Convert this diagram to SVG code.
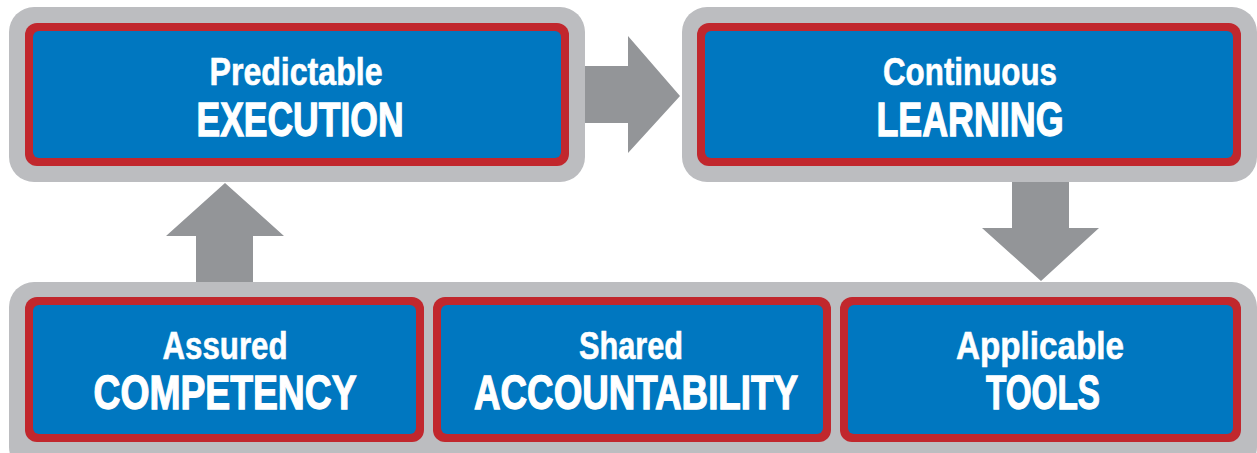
<svg xmlns="http://www.w3.org/2000/svg" width="1257" height="453" viewBox="0 0 1257 453">
<style>
.frame{fill:#bcbdc0}
.red{fill:#c1272d}
.blue{fill:#0077c0}
.arrow{fill:#939598}
text{font-family:"Liberation Sans",Arial,sans-serif;font-weight:bold;fill:#fff;stroke:#fff;text-anchor:middle}
.s{font-size:38px;stroke-width:0.6px}
.b{font-size:48px;stroke-width:1.3px}
</style>
<rect width="1257" height="453" fill="#fff"/>
<g id="connectors">
<polygon class="arrow" points="583,66 628,66 628,36 680,96 628,153 628,123 583,123"/>
<polygon class="arrow" points="196,284 196,236 166,236 225,183 284,236 253,236 253,284"/>
<polygon class="arrow" points="1012,180 1069,180 1069,228 1099,228 1041,281 982,228 1012,228"/>
</g>
<g id="predictable-execution">
<rect class="frame" x="9" y="7" width="576" height="175" rx="25"/>
<rect class="red" x="25" y="23" width="544" height="143" rx="12"/>
<rect class="blue" x="33" y="31" width="528" height="127" rx="6"/>
<text class="s" x="296" y="85" textLength="173" lengthAdjust="spacingAndGlyphs">Predictable</text>
<text class="b" x="300" y="136" textLength="207" lengthAdjust="spacingAndGlyphs">EXECUTION</text>
</g>
<g id="continuous-learning">
<rect class="frame" x="682" y="7" width="575" height="175" rx="25"/>
<rect class="red" x="697" y="23" width="544" height="143" rx="12"/>
<rect class="blue" x="705" y="31" width="528" height="127" rx="6"/>
<text class="s" x="970" y="85" textLength="174" lengthAdjust="spacingAndGlyphs">Continuous</text>
<text class="b" x="970" y="136" textLength="187" lengthAdjust="spacingAndGlyphs">LEARNING</text>
</g>
<g id="bottom-frame">
<rect class="frame" x="9" y="282" width="1248" height="190" rx="25"/>
</g>
<g id="assured-competency">
<rect class="red" x="25" y="297" width="399" height="145" rx="12"/>
<rect class="blue" x="33" y="305" width="383" height="129" rx="6"/>
<text class="s" x="225" y="359" textLength="125" lengthAdjust="spacingAndGlyphs">Assured</text>
<text class="b" x="225" y="409" textLength="263" lengthAdjust="spacingAndGlyphs">COMPETENCY</text>
</g>
<g id="shared-accountability">
<rect class="red" x="433" y="297" width="398" height="145" rx="12"/>
<rect class="blue" x="441" y="305" width="382" height="129" rx="6"/>
<text class="s" x="631" y="359" textLength="104" lengthAdjust="spacingAndGlyphs">Shared</text>
<text class="b" x="636" y="409" textLength="324" lengthAdjust="spacingAndGlyphs">ACCOUNTABILITY</text>
</g>
<g id="applicable-tools">
<rect class="red" x="840" y="297" width="401" height="145" rx="12"/>
<rect class="blue" x="848" y="305" width="385" height="129" rx="6"/>
<text class="s" x="1040" y="359" textLength="168" lengthAdjust="spacingAndGlyphs">Applicable</text>
<text class="b" x="1043" y="409" textLength="114" lengthAdjust="spacingAndGlyphs">TOOLS</text>
</g>
</svg>
